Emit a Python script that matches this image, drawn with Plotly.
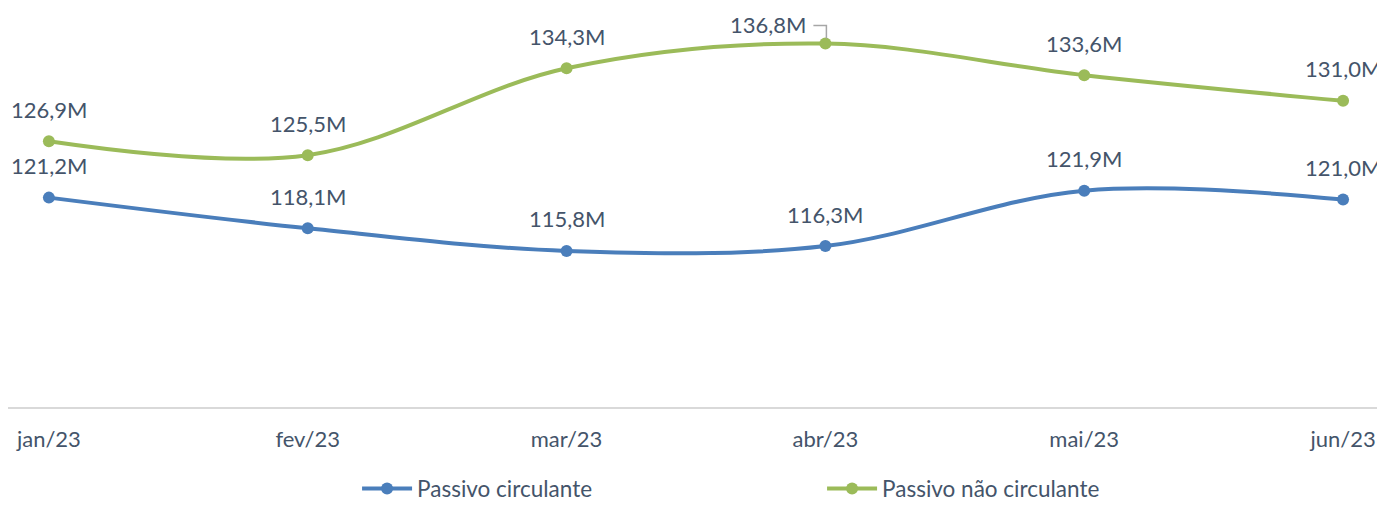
import plotly.graph_objects as go

months = ["jan/23", "fev/23", "mar/23", "abr/23", "mai/23", "jun/23"]
circulante = [121.2, 118.1, 115.8, 116.3, 121.9, 121.0]
nao_circulante = [126.9, 125.5, 134.3, 136.8, 133.6, 131.0]

BLUE = "#4A7EBB"
GREEN = "#9BBB59"
TEXT = "#44546A"
FONT = "Lato"
LABEL_SIZE = 22

def fmt(v):
    return f"{v:.1f}".replace(".", ",") + "M"

xs = list(range(len(months)))

fig = go.Figure()
fig.add_trace(go.Scatter(
    x=xs, y=circulante, mode="lines+markers", name="Passivo circulante",
    line=dict(color=BLUE, width=4, shape="spline", smoothing=1.0),
    marker=dict(size=12, color=BLUE)))
fig.add_trace(go.Scatter(
    x=xs, y=nao_circulante, mode="lines+markers", name="Passivo não circulante",
    line=dict(color=GREEN, width=4, shape="spline", smoothing=1.0),
    marker=dict(size=12, color=GREEN)))

for i, v in enumerate(circulante):
    fig.add_annotation(x=xs[i], y=v, text=fmt(v), showarrow=False,
                       yshift=32, font=dict(family=FONT, size=LABEL_SIZE, color=TEXT))
for i, v in enumerate(nao_circulante):
    if i == 3:
        fig.add_annotation(x=xs[i], y=v, text=fmt(v), showarrow=False,
                           xshift=-57, yshift=19, font=dict(family=FONT, size=LABEL_SIZE, color=TEXT))
        fig.add_shape(type="path", xref="x", yref="y", xsizemode="pixel", ysizemode="pixel",
                      xanchor=xs[i], yanchor=v, path="M -12,18 L 1,18 L 1,5",
                      line=dict(color="#A6A6A6", width=1.5))
    else:
        fig.add_annotation(x=xs[i], y=v, text=fmt(v), showarrow=False,
                           yshift=32, font=dict(family=FONT, size=LABEL_SIZE, color=TEXT))

fig.update_layout(
    width=1377, height=497,
    margin=dict(l=0, r=0, t=0, b=98, autoexpand=False),
    paper_bgcolor="white", plot_bgcolor="white",
    font=dict(family=FONT, size=22, color=TEXT),
    showlegend=True,
    legend=dict(orientation="h", x=0.2535, xanchor="left", y=-0.259, yanchor="bottom",
                entrywidth=400, entrywidthmode="pixels",
                font=dict(family=FONT, size=22.5, color=TEXT), itemwidth=50),
    xaxis=dict(range=[-0.158, 5.162], tickmode="array", tickvals=xs, ticktext=months,
               showgrid=False, zeroline=False, showline=True, linecolor="#D9D9D9", linewidth=2,
               ticks="outside", ticklen=0, ticklabelstandoff=12, automargin=False,
               tickfont=dict(family=FONT, size=22, color=TEXT)),
    yaxis=dict(range=[100, 140.4], visible=False, showgrid=False, zeroline=False, automargin=False),
)

fig.write_html("out.html")
